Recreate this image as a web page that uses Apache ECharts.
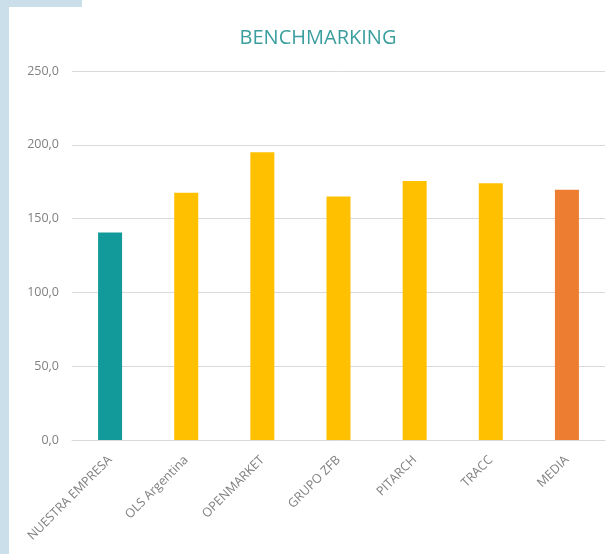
<!DOCTYPE html>
<html>
<head>
<meta charset="utf-8">
<script src="https://cdn.jsdelivr.net/npm/echarts@6/dist/echarts.min.js"></script>
<style>
html,body{margin:0;padding:0;background:#fff;}
#wrap{position:relative;width:613px;height:554px;overflow:hidden;}
.blue{position:absolute;background:#cadfea;}
#chart{position:absolute;left:0;top:0;width:613px;height:554px;}
</style>
</head>
<body>
<div id="wrap">
  <div class="blue" style="left:0;top:0;width:9px;height:554px;"></div>
  <div class="blue" style="left:0;top:0;width:82px;height:7px;"></div>
  <div id="chart"></div>
</div>
<script>
const categories = ['NUESTRA EMPRESA','OLS Argentina','OPENMARKET','GRUPO ZFB','PITARCH','TRACC','MEDIA'];
const values = [140.5, 167.5, 195.0, 165.0, 175.5, 174.0, 169.5];
const barColors = ['#12999a','#ffc000','#ffc000','#ffc000','#ffc000','#ffc000','#ed7d31'];
const yTicks = [0, 50, 250];

const chart = echarts.init(document.getElementById('chart'));
chart.setOption({
  animation: false,
  backgroundColor: 'transparent',
  title: {
    text: 'BENCHMARKING',
    left: 313,
    textAlign: 'center',
    top: 23,
    textStyle: {color: '#3a9e9e', fontSize: 20, fontWeight: 'normal', fontFamily: 'Open Sans'}
  },
  grid: {left: 72, right: 8, top: 71, bottom: 114, containLabel: false},
  xAxis: {
    type: 'category',
    data: categories,
    axisLine: {lineStyle: {color: '#d9d9d9'}},
    axisTick: {show: false},
    axisLabel: {rotate: 45, color: '#808080', fontSize: 12.5, fontFamily: 'Open Sans', margin: 18, interval: 0}
  },
  yAxis: {
    type: 'value',
    min: yTicks[0],
    max: yTicks[2],
    interval: yTicks[1],
    axisLine: {show: false},
    axisTick: {show: false},
    splitLine: {lineStyle: {color: '#d9d9d9'}},
    axisLabel: {color: '#808080', fontSize: 12.5, fontFamily: 'Open Sans', margin: 13,
      formatter: v => v.toFixed(1).replace('.', ',')}
  },
  series: [{
    type: 'bar',
    data: values.map((v, i) => ({value: v, itemStyle: {color: barColors[i]}})),
    barWidth: 24
  }]
});
</script>
</body>
</html>
